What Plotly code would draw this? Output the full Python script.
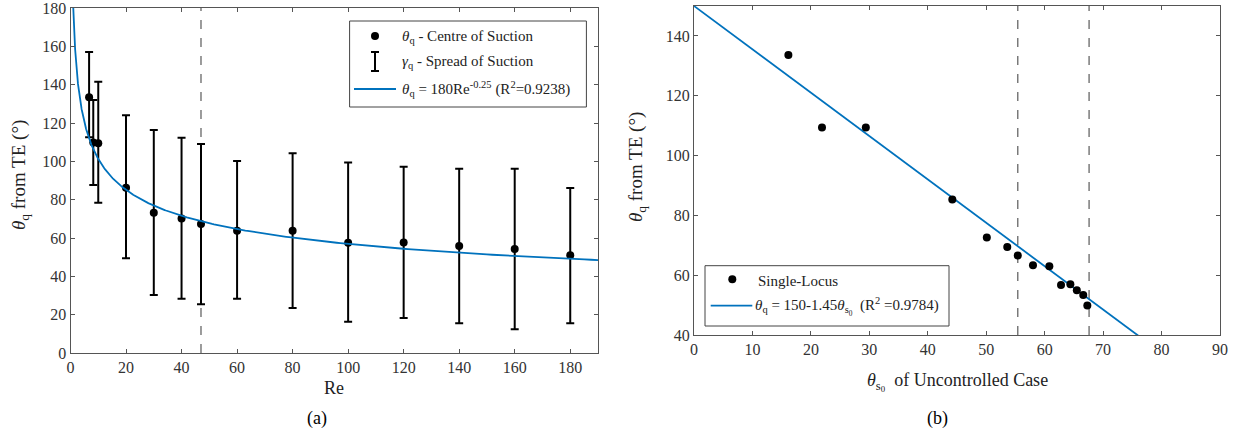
import numpy as np
import plotly.graph_objects as go

W, H = 1237, 435
FONT = "'Liberation Serif', 'Times New Roman', Times, serif"

# ---------------- data: panel (a) ----------------
re_vals = [6.7, 8.2, 10, 20, 30, 40, 47, 60, 80, 100, 120, 140, 160, 180]
theta_q = [133.5, 109.8, 109.5, 86.2, 73.2, 70.2, 67.3, 63.8, 63.8, 57.5, 57.7, 55.8, 54.2, 51.0]
spread_upper = [157, 132, 141.5, 124, 116.3, 112.3, 109, 100.2, 104.2, 99.4, 97.2, 96.1, 96.1, 86.1]
spread_lower = [112.6, 87.6, 78.4, 49.4, 30.3, 28.3, 25.4, 28.3, 23.5, 16.3, 18.3, 15.5, 12.4, 15.5]
fit_a_coef, fit_a_exp = 180, -0.25
re_dashed = 47
xticks_a = [0, 20, 40, 60, 80, 100, 120, 140, 160, 180]
yticks_a = [0, 20, 40, 60, 80, 100, 120, 140, 160, 180]

# ---------------- data: panel (b) ----------------
theta_s0 = [16.15, 21.9, 29.4, 44.2, 50.1, 53.6, 55.4, 58.0, 60.8, 62.8, 64.4, 65.5, 66.6, 67.3]
theta_q_b = [133.6, 109.4, 109.4, 85.3, 72.6, 69.4, 66.6, 63.3, 63.0, 56.7, 57.0, 55.0, 53.4, 49.9]
fit_b_int, fit_b_slope = 150, -1.45
s0_dashed = [55.4, 67.6]
xticks_b = [0, 10, 20, 30, 40, 50, 60, 70, 80, 90]
yticks_b = [40, 60, 80, 100, 120, 140]


def px(x):
    return x / W


def py(y):
    return 1 - y / H


fig = go.Figure()

# panel (a)
up = [u - t for u, t in zip(spread_upper, theta_q)]
dn = [t - l for t, l in zip(theta_q, spread_lower)]
fig.add_trace(go.Scatter(
    x=re_vals, y=theta_q, mode="markers",
    marker=dict(color="black", size=8),
    error_y=dict(type="data", symmetric=False, array=up, arrayminus=dn,
                 color="black", thickness=2, width=4),
    xaxis="x", yaxis="y", showlegend=False, cliponaxis=False))
re_fit = np.geomspace(1, 190, 400)
fig.add_trace(go.Scatter(
    x=re_fit, y=fit_a_coef * re_fit ** fit_a_exp, mode="lines",
    line=dict(color="#0072BD", width=1.8), xaxis="x", yaxis="y", showlegend=False))

# panel (b)
xb = np.array([0, 90])
fig.add_trace(go.Scatter(
    x=xb, y=fit_b_int + fit_b_slope * xb, mode="lines",
    line=dict(color="#0072BD", width=1.8), xaxis="x2", yaxis="y2", showlegend=False))
fig.add_trace(go.Scatter(
    x=theta_s0, y=theta_q_b, mode="markers",
    marker=dict(color="black", size=8), xaxis="x2", yaxis="y2", showlegend=False))

axis_common = dict(showline=True, linecolor="#555", linewidth=1, mirror="ticks",
                   ticks="inside", ticklen=4, tickcolor="#555", tickwidth=1,
                   showgrid=False, zeroline=False, ticklabeloverflow="allow",
                   tickfont=dict(family=FONT, size=16, color="#333"))

fig.update_layout(
    width=W, height=H, margin=dict(l=0, r=0, t=0, b=0),
    paper_bgcolor="white", plot_bgcolor="white",
    font=dict(family=FONT, size=15, color="#222"),
    xaxis=dict(domain=[px(70.5), px(598)], range=[0, 190], tickvals=xticks_a,
               anchor="y", automargin=False, **axis_common),
    yaxis=dict(domain=[py(353), py(8)], range=[0, 180], tickvals=yticks_a,
               anchor="x", automargin=False, **axis_common),
    xaxis2=dict(domain=[px(694), px(1220)], range=[0, 90], tickvals=xticks_b,
                anchor="y2", automargin=False, **axis_common),
    yaxis2=dict(domain=[py(335), py(6)], range=[40, 150], tickvals=yticks_b,
                anchor="x2", automargin=False, **axis_common),
)

shapes = []
# dashed reference lines
shapes.append(dict(type="line", xref="x", yref="y domain", x0=re_dashed, x1=re_dashed,
                   y0=0, y1=1, line=dict(color="#666", width=1.3, dash="dash"), layer="below"))
for v in s0_dashed:
    shapes.append(dict(type="line", xref="x2", yref="y2 domain", x0=v, x1=v, y0=0, y1=1,
                       line=dict(color="#666", width=1.3, dash="dash"), layer="below"))

# legend (a)
shapes.append(dict(type="rect", xref="paper", yref="paper", x0=px(349.6), x1=px(586.4),
                   y0=py(107), y1=py(21), line=dict(color="#444", width=1), fillcolor="white"))
shapes.append(dict(type="circle", xref="paper", yref="paper", x0=px(371), x1=px(379),
                   y0=py(40), y1=py(32), line=dict(color="black", width=0), fillcolor="black"))
shapes.append(dict(type="line", xref="paper", yref="paper", x0=px(375), x1=px(375),
                   y0=py(71), y1=py(52), line=dict(color="black", width=2)))
for yy in (52, 71):
    shapes.append(dict(type="line", xref="paper", yref="paper", x0=px(371), x1=px(379),
                       y0=py(yy), y1=py(yy), line=dict(color="black", width=2)))
shapes.append(dict(type="line", xref="paper", yref="paper", x0=px(354), x1=px(396),
                   y0=py(89), y1=py(89), line=dict(color="#0072BD", width=1.8)))

# legend (b)
shapes.append(dict(type="rect", xref="paper", yref="paper", x0=px(705), x1=px(949),
                   y0=py(326), y1=py(265.7), line=dict(color="#444", width=1), fillcolor="white"))
shapes.append(dict(type="circle", xref="paper", yref="paper", x0=px(728.3), x1=px(736.3),
                   y0=py(283.3), y1=py(275.3), line=dict(color="black", width=0), fillcolor="black"))
shapes.append(dict(type="line", xref="paper", yref="paper", x0=px(710.7), x1=px(752.3),
                   y0=py(305.7), y1=py(305.7), line=dict(color="#0072BD", width=1.8)))
fig.update_layout(shapes=shapes)

TH = "<i>θ</i><sub>q</sub>"
ann = []


def text(x, y, s, size=15, xa="left", angle=0, color="#222"):
    ann.append(dict(x=px(x), y=py(y), xref="paper", yref="paper", text=s, showarrow=False,
                    xanchor=xa, yanchor="middle", textangle=angle,
                    font=dict(family=FONT, size=size, color=color)))


text(400, 37, TH + " - Centre of Suction")
text(400, 62, "<i>γ</i><sub>q</sub> - Spread of Suction")
text(400, 89, TH + " = 180Re<sup>-0.25</sup> (R<sup>2</sup>=0.9238)")
text(756, 281, "Single-Locus")
text(753, 306, TH + " = 150-1.45<i>θ</i><sub>s<sub>0</sub></sub>  (R<sup>2</sup> =0.9784)")

# axis titles
text(20, 175, TH + " from TE (°)", size=19, xa="center", angle=-90)
text(637, 167, TH + " from TE (°)", size=19, xa="center", angle=-90)
text(334, 388, "Re", size=18, xa="center")
text(957, 382, "<i>θ</i><sub>s<sub>0</sub></sub>  of Uncontrolled Case", size=18, xa="center")
# captions
text(317, 418, "(a)", size=18, xa="center", color="black")
text(937, 418, "(b)", size=18, xa="center", color="black")
fig.update_layout(annotations=ann)

fig.write_html("out.html")
